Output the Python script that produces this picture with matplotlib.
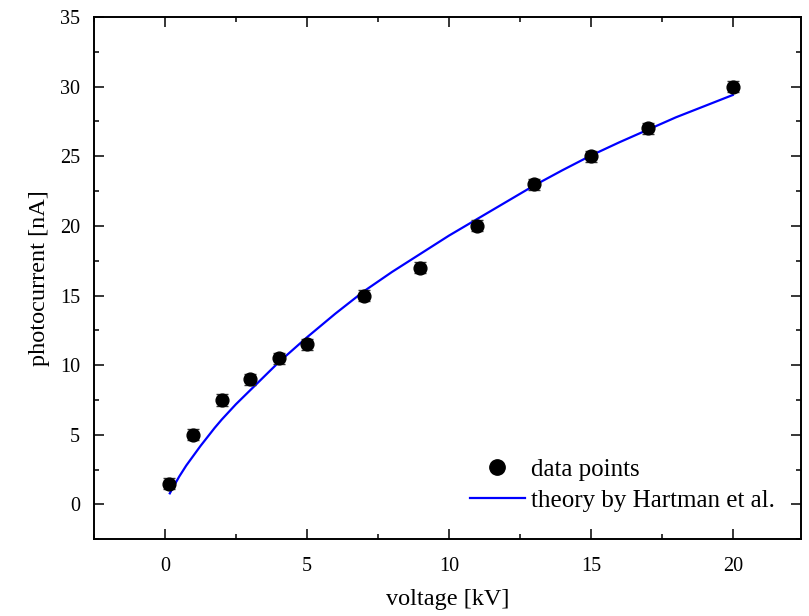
import numpy as np
import matplotlib
matplotlib.use("Agg")
import matplotlib.pyplot as plt

# measured photocurrent
voltage = [0.15, 1, 2, 3, 4, 5, 7, 9, 11, 13, 15, 17, 20]
current = [1.5, 5.0, 7.5, 9.0, 10.5, 11.5, 15.0, 17.0, 20.0, 23.0, 25.0, 27.0, 30.0]
current_err = [0.4, 0.4, 0.4, 0.4, 0.4, 0.4, 0.4, 0.4, 0.4, 0.4, 0.4, 0.4, 0.4]

# theory curve
theory_v = [0.17, 0.25, 0.5, 0.75, 1, 1.25, 1.5, 1.75, 2, 2.5, 3, 3.5, 4, 5, 6, 7, 8, 9,
            10, 11, 12, 13, 14, 15, 16, 17, 18, 19, 20]
theory_i = [0.8, 1.1, 2.0, 2.8, 3.5, 4.2, 4.85, 5.5, 6.1, 7.2, 8.2, 9.2, 10.2, 12.0,
            13.7, 15.3, 16.7, 18.0, 19.3, 20.5, 21.7, 22.9, 24.0, 25.05, 26.0, 26.9,
            27.8, 28.6, 29.4]

xticks = [0, 5, 10, 15, 20]
yticks = [0, 5, 10, 15, 20, 25, 30, 35]

plt.rcParams['font.family'] = ['Liberation Serif', 'DejaVu Serif']

fig = plt.figure(figsize=(8.09, 6.16), dpi=100)
ax = fig.add_axes([0.1162, 0.1245, 0.990 - 0.1162, 0.9724 - 0.1245])

ax.errorbar(voltage, current, yerr=current_err, fmt='none', ecolor='#333333',
            capsize=4, elinewidth=1, capthick=1, zorder=3)
ax.plot(voltage, current, 'o', color='black', markersize=9.2,
        label='data points', zorder=4)
ax.plot(theory_v, theory_i, color='#0000ff', lw=1.6,
        label='theory by Hartman et al.', zorder=2)

ax.set_xlim(-2.5, 22.4)
ax.set_ylim(-2.5, 35)
ax.set_xticks(xticks)
ax.set_yticks(yticks)
ax.set_xticks(np.arange(-2.5, 22.5, 2.5), minor=True)
ax.set_yticks(np.arange(-2.5, 35.1, 2.5), minor=True)

ax.tick_params(which='both', direction='in', top=True, right=True, width=1.1,
               labelsize=14.5)
ax.tick_params(which='major', length=7.5)
ax.tick_params(which='minor', length=3.5)
ax.tick_params(axis='x', pad=13)
ax.tick_params(axis='y', pad=10)
for s in ax.spines.values():
    s.set_linewidth(1.4)

ax.set_xlabel('voltage [kV]', fontsize=17.5, labelpad=9)
ax.set_ylabel('photocurrent [nA]', fontsize=17.5, labelpad=7)

ax.legend(loc='lower right', frameon=False, fontsize=18, handlelength=2.2,
          handletextpad=0.25, labelspacing=0.35, borderpad=0, borderaxespad=0,
          bbox_to_anchor=(0.963, 0.052), markerscale=1.2)

fig.savefig('out.png', dpi=100)
